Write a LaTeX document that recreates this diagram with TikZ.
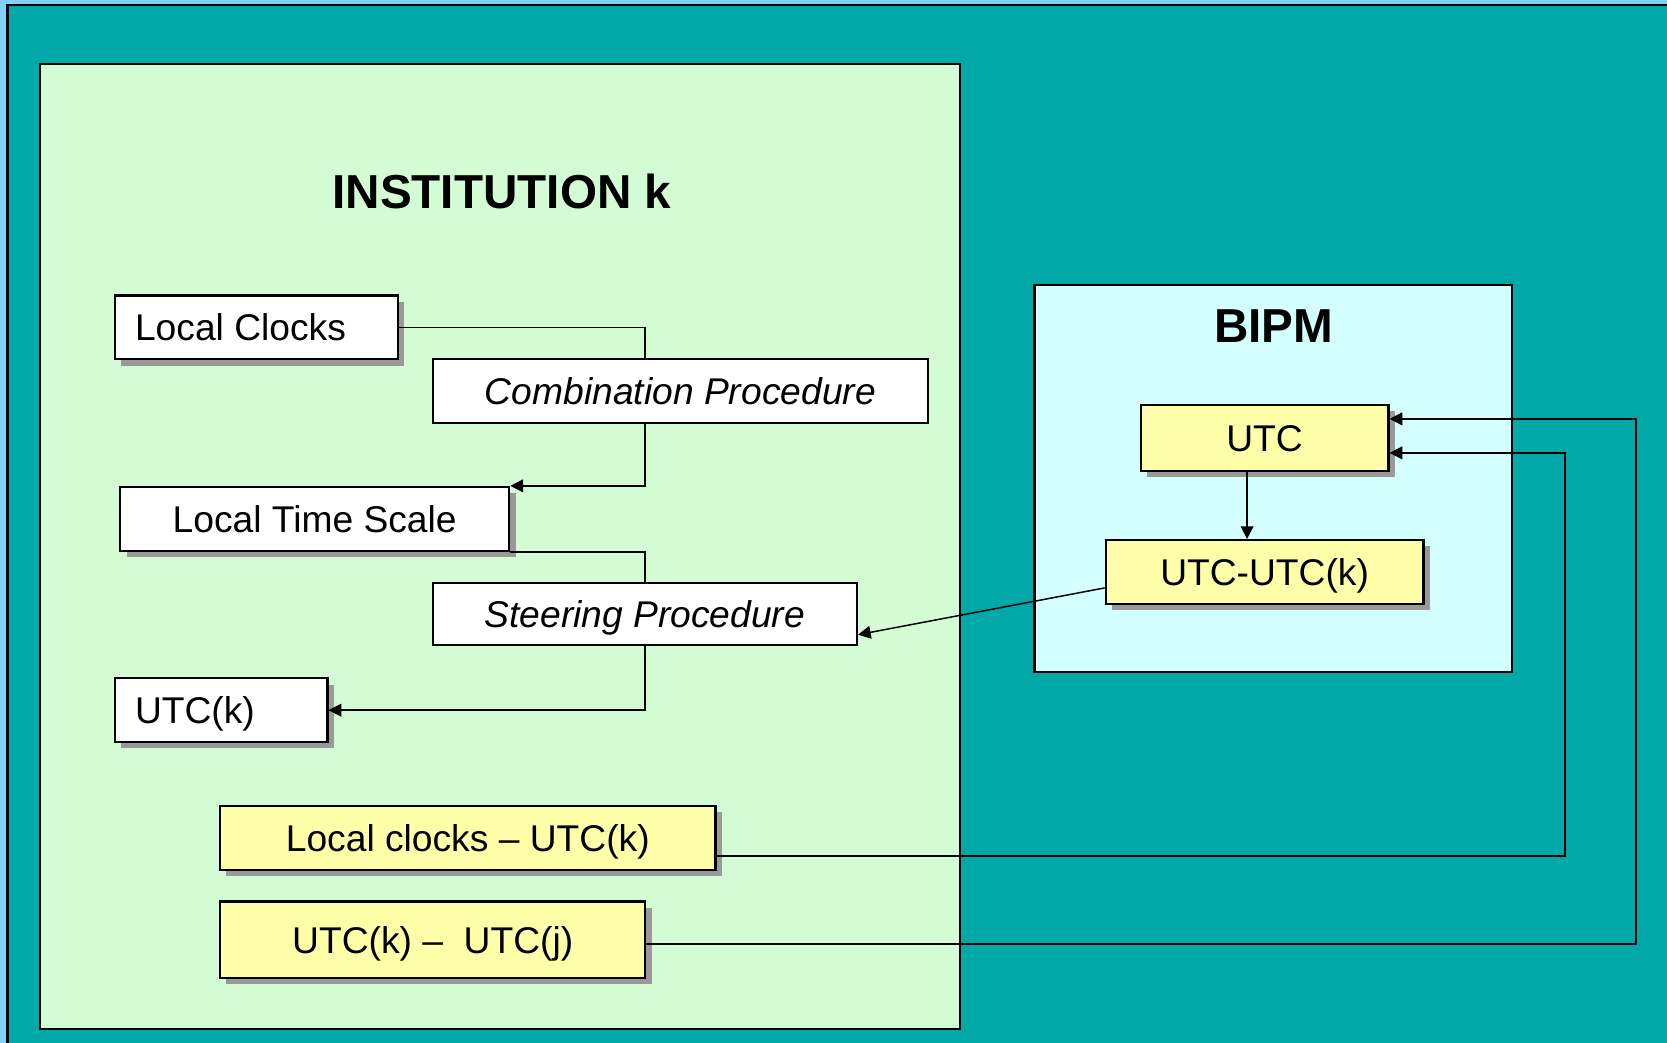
\documentclass[tikz,border=0pt]{standalone}
\usepackage{fontspec}
\setmainfont{Liberation Sans}
\usetikzlibrary{shadows,arrows.meta,calc}
\definecolor{outerblue}{RGB}{128,208,248}
\definecolor{tealbg}{RGB}{0,168,168}
\definecolor{greenbg}{RGB}{212,252,212}
\definecolor{cyanbg}{RGB}{212,255,255}
\definecolor{yel}{RGB}{255,255,170}
\definecolor{shgray}{RGB}{153,153,153}
\begin{document}
\begin{tikzpicture}[x=0.5pt,y=-0.5pt,
  box/.style={draw=black, line width=1pt, font=\fontsize{17.5}{21}\selectfont, inner sep=0pt, text height=12.5pt, text depth=0pt},
  shbox/.style={box, drop shadow={shadow xshift=3pt, shadow yshift=-3pt, fill=shgray, opacity=1}},
  wbox/.style={shbox, fill=white},
  ybox/.style={shbox, fill=yel},
  pbox/.style={box, fill=white, font=\fontsize{17.5}{21}\selectfont\itshape},
  titlefont/.style={font=\fontsize{22.4}{26}\selectfont\bfseries},
  conn/.style={line width=0.7pt},
  arr/.style={conn, -{Triangle[length=6pt,width=6pt]}},
]
\useasboundingbox (0,0) rectangle (1568,981);
\fill[outerblue] (0,0) rectangle (1568,981);
\draw[fill=tealbg, line width=1pt] (7,5) rectangle (1600,1010);

% containers
\node[draw, line width=1pt, fill=greenbg, minimum width=432.5pt, minimum height=454pt, inner sep=0pt] (inst) at (470.5,514) {};
\node[titlefont] (instt) at (472,180) {INSTITUTION k};
\node[draw, line width=1pt, fill=cyanbg, minimum width=224.5pt, minimum height=182pt, inner sep=0pt] (bipm) at (1197.5,450) {};
\node[titlefont] (bipmt) at (1198,307) {BIPM};

% institution boxes
\node[wbox, anchor=west, minimum width=133pt, minimum height=30pt, inner xsep=9.5pt] (lc) at (107,308) {\makebox[114pt][l]{Local Clocks}};
\node[pbox, minimum width=233pt, minimum height=30pt] (comb) at (640,368) {Combination Procedure};
\node[wbox, minimum width=183pt, minimum height=30pt] (lts) at (296,488) {Local Time Scale};
\node[pbox, minimum width=199.5pt, minimum height=29.5pt] (steer) at (606.5,577.5) {Steering Procedure};
\node[wbox, anchor=west, minimum width=100pt, minimum height=30pt, inner xsep=9.5pt] (utck) at (107,668) {\makebox[81pt][l]{UTC(k)}};
\node[ybox, minimum width=233pt, minimum height=30pt] (lcu) at (440,788) {Local clocks – UTC(k)};
\node[ybox, minimum width=200pt, minimum height=36pt] (ukj) at (407,884) {UTC(k) –\ \ UTC(j)};

% BIPM boxes
\node[ybox, minimum width=116.5pt, minimum height=31pt] (utc) at (1189.5,412) {UTC};
\node[ybox, minimum width=149.5pt, minimum height=30pt] (uu) at (1189.5,538) {UTC-UTC(k)};

% connectors
\draw[conn] (lc.east) -| (steer.north |- comb.north);
\draw[arr] (steer.north |- comb.south) |- (lts.north east);
\draw[conn] (lts.south east) -| (steer.north);
\draw[arr] (steer.south) |- (utck.east);
\draw[arr] ([yshift=-7.5pt]uu.west) -- ([yshift=-9.75pt]steer.east);
\coordinate (cx) at (1173,0);
\draw[arr] (utc.south -| cx) -- (uu.north -| cx);
\coordinate (r1) at (1472,0);
\coordinate (r2) at (1539,0);
\coordinate (a1) at ([yshift=-8.5pt]lcu.east);
\coordinate (b1) at ([yshift=-7pt]utc.east);
\draw[arr] (a1) -- (a1 -| r1) -- (b1 -| r1) -- (b1);
\coordinate (a2) at ([yshift=-2pt]ukj.east);
\coordinate (b2) at ([yshift=9pt]utc.east);
\draw[arr] (a2) -- (a2 -| r2) -- (b2 -| r2) -- (b2);
\end{tikzpicture}
\end{document}
